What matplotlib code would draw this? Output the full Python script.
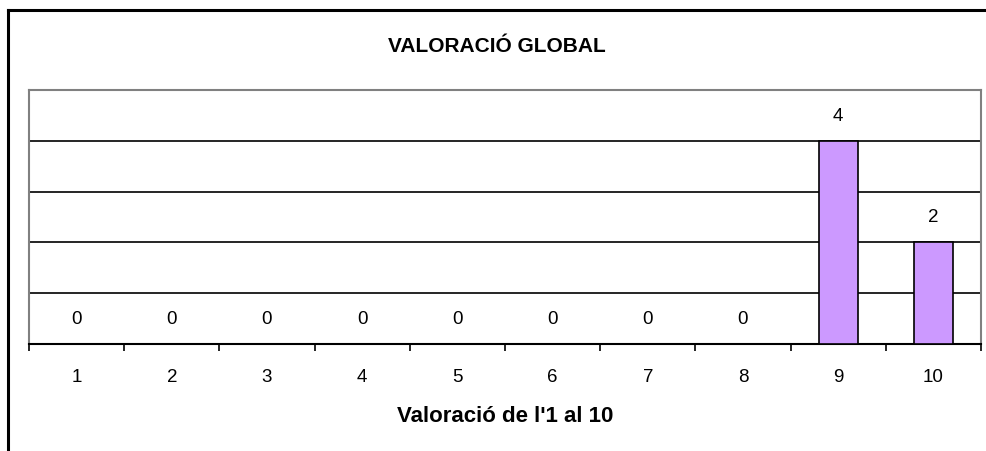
import matplotlib.pyplot as plt
from matplotlib.lines import Line2D

plt.rcParams['font.family'] = ['Liberation Sans', 'DejaVu Sans']

categories = ['1', '2', '3', '4', '5', '6', '7', '8', '9', '10']
values = [0, 0, 0, 0, 0, 0, 0, 0, 4, 2]
title = 'VALORACIÓ GLOBAL'
xlabel = "Valoració de l'1 al 10"

fig = plt.figure(figsize=(9.87, 4.52), dpi=100)
ax = fig.add_axes([29 / 987, 107 / 452, 952 / 987, 254 / 452])

x = range(len(categories))
ax.bar(x, values, width=0.41, color='#CC99FF', edgecolor='black', linewidth=1.2, zorder=3)

for xi, v in zip(x, values):
    ax.annotate(str(v), (xi, v), xytext=(0, 18.5), textcoords='offset points',
                ha='center', va='center', fontsize=13.5)

ax.set_xlim(-0.5, len(categories) - 0.5)
ax.set_ylim(0, 5)
ax.set_yticks([])
for y in range(1, 5):
    ax.axhline(y, color='black', linewidth=1.2, zorder=1)

# ticks between categories, labels centred
ax.set_xticks([i - 0.5 for i in range(len(categories) + 1)])
ax.set_xticklabels([])
ax.set_xticks(list(x), minor=True)
ax.set_xticklabels(categories, minor=True, fontsize=13.5)
ax.tick_params(axis='x', which='major', length=5, width=1.2, direction='out')
ax.tick_params(axis='x', which='minor', length=0, pad=17)

for s in ['left', 'top', 'right']:
    ax.spines[s].set_color('#808080')
    ax.spines[s].set_linewidth(1.5)
ax.spines['bottom'].set_color('black')
ax.spines['bottom'].set_linewidth(1.5)

ax.set_xlabel(xlabel, fontsize=16, fontweight='bold', labelpad=15)
fig.text(497 / 987, 1 - 46 / 452, title, ha='center', va='center', fontsize=15, fontweight='bold')

# outer chart frame
fig.add_artist(Line2D([8 / 987, 8 / 987], [0, 1 - 11 / 452], color='black', linewidth=2.2,
                      transform=fig.transFigure))
fig.add_artist(Line2D([8 / 987, 985 / 987], [1 - 11 / 452, 1 - 11 / 452], color='black',
                      linewidth=2.2, transform=fig.transFigure))

fig.savefig('out.png', dpi=100)
